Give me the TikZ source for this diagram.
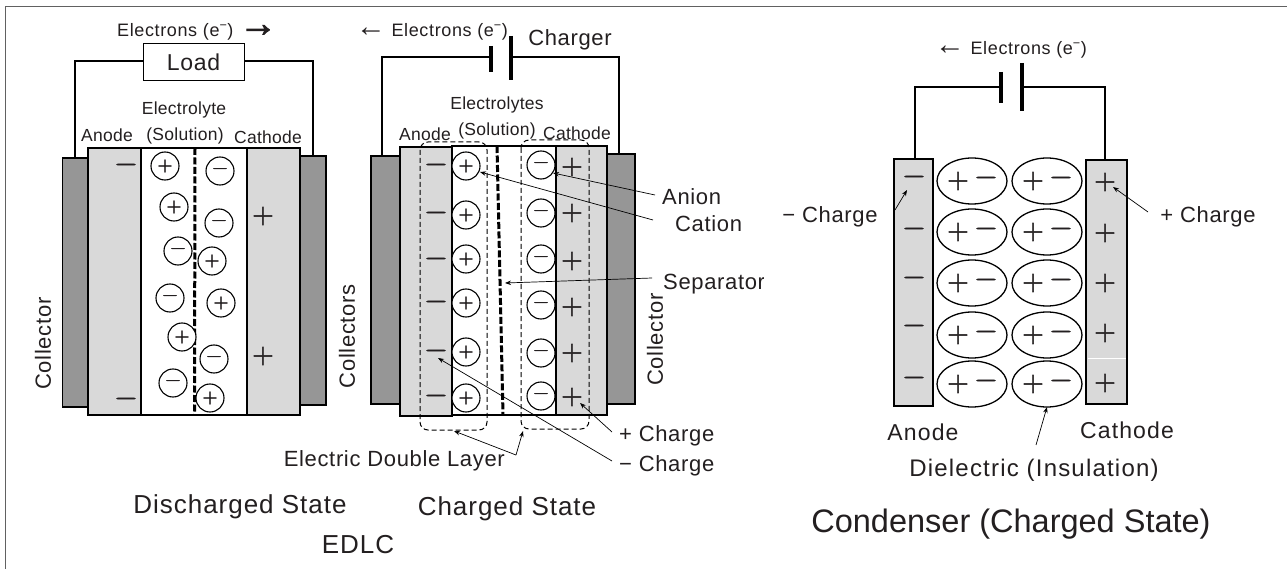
\documentclass[tikz,border=0pt]{standalone}
\usepackage{fontspec}
\setmainfont{Liberation Sans}
\newfontfamily\sgn[FakeBold=1.5]{Latin Modern Roman}
\newfontfamily\gA[LetterSpace=1.5]{Liberation Sans}
\newfontfamily\gB[LetterSpace=3.5]{Liberation Sans}
\newfontfamily\gC[LetterSpace=3]{Liberation Sans}
\newfontfamily\gD[LetterSpace=5]{Liberation Sans}
\newfontfamily\gE[LetterSpace=3.75]{Liberation Sans}
\newfontfamily\arrfat[FakeBold=2.5]{Liberation Sans}
\usetikzlibrary{arrows.meta,shapes.geometric}
\definecolor{txt}{HTML}{231F20}
\definecolor{lite}{HTML}{D9D9D9}
\definecolor{dark}{HTML}{969696}
\newcommand{\fs}[1]{\fontsize{#1}{#1}\selectfont}
\newcommand{\elec}{Electrons (e\textsuperscript{−})}
\newcommand{\larr}{\smash{\raisebox{0pt}{\fs{30}\rmfamily←}}}
\newcommand{\rarr}{\smash{\raisebox{0pt}{\arrfat\fs{38}→}}}
\tikzset{
  x=1pt,y=-1pt,
  lbl/.style={text=txt,inner sep=0pt,yshift=-1.5pt,font=\gA\fs{17.5}},
  lble/.style={text=txt,inner sep=0pt,yshift=-1.5pt,font=\gB\fs{18}},
  lblb/.style={text=txt,inner sep=0pt,yshift=-1.5pt,font=\gC\fs{22}},
  lbld/.style={text=txt,inner sep=0pt,yshift=-1.5pt,font=\gD\fs{23}},
  lblc/.style={text=txt,inner sep=0pt,yshift=-2pt,font=\gE\fs{26}},
  lite rect/.style={draw=black,fill=lite,line width=1.8pt},
  dark rect/.style={draw=black,fill=dark,line width=1.8pt},
  white rect/.style={draw=black,fill=white,line width=1.8pt},
  ion/.style={circle,draw=black,fill=white,line width=1.1pt,minimum size=28pt,inner sep=0pt,text=txt,font=\sgn\fs{21}},
  sign/.style={inner sep=0pt,text=txt,font=\sgn\fs{30}},
  wire/.style={line width=2.6pt,line join=miter},
  plate/.style={line width=3.5pt},
  ptr/.style={line width=.7pt,-{Stealth[length=6pt,width=4.5pt]},black},
  dlayer/.style={line width=1pt,dash pattern=on 5pt off 3pt,rounded corners=8pt},
  sep/.style={line width=3pt,dash pattern=on 7pt off 2.5pt},
  dipole/.style={ellipse,draw=black,fill=white,line width=1.3pt,minimum width=70pt,minimum height=46pt,inner sep=0pt},
}
\begin{document}
\begin{tikzpicture}
\useasboundingbox (0,0) rectangle (1287,569);
\fill[white] (0,0) rectangle (1287,569);
\draw[line width=1.8pt,draw=black!62] (5.5,569) -- (5.5,6.5) -- (1287,6.5);

% ---------- Discharged cell
\draw[wire,line width=2pt] (193,61) -| (75,158);
\draw[wire] (193,61) -| (313,156);
\node[draw=black,fill=white,line width=1pt,minimum width=101pt,minimum height=37pt,inner sep=0pt,text=txt,font=\gC\fs{23}] (load) at (193.5,62.5) {Load};
\path[dark rect] (62.5,158) rectangle (88,407);
\path[dark rect] (300,156) rectangle (326,405);
\path[lite rect] (88,148) rectangle (141,415);
\path[white rect] (141,148) rectangle (247,415);
\path[lite rect] (247,148) rectangle (300,415);
\draw[sep] (195,148) -- (194.5,415);
\node[sign] (d1) at (126,168) {−};
\node[sign] (d2) at (126,402) {−};
\node[sign] (d3) at (263,216) {+};
\node[sign] (d4) at (263,356) {+};
\node[ion] (a1) at (165,166) {+};
\node[ion] (a2) at (220,171) {−};
\node[ion] (a3) at (174,207) {+};
\node[ion] (a4) at (219,223) {−};
\node[ion] (a5) at (178,251) {−};
\node[ion] (a6) at (212,261) {+};
\node[ion] (a7) at (170,298) {−};
\node[ion] (a8) at (221,303) {+};
\node[ion] (a9) at (182,337) {+};
\node[ion] (a10) at (214,359) {−};
\node[ion] (a11) at (173,383) {−};
\node[ion] (a12) at (210,398) {+};
\node[lble,anchor=west] (t1) at (117,30) {\elec\ \rarr};
\node[lbl] (t2) at (184,108) {Electrolyte};
\node[lbl] (t3) at (107,134) {Anode};
\node[lbl] (t4) at (185,134) {(Solution)};
\node[lbl] (t5) at (268,136) {Cathode};
\node[lblb,rotate=90] (t6) at (43,342) {Collector};
\node[lblb,rotate=90] (t7) at (347,335) {Collectors};

% ---------- Charged cell
\coordinate (cl) at (382,156);
\coordinate (cr) at (619,154);
\coordinate (pl) at (491,57);
\coordinate (pr) at (511,57);
\draw[wire] (pl) -| (cl);
\draw[wire] (pr) -| (cr);
\draw[plate] (491,46) -- (491,72);
\draw[plate] (511,36) -- (511,80);
\path[dark rect] (371,156) rectangle (400,404);
\path[dark rect] (607,154) rectangle (635,404);
\path[lite rect] (400,147) rectangle (452,416);
\path[lite rect] (556,146) rectangle (607,415);
\path[white rect] (452,146) rectangle (556,415);
\draw[lite rect] (400,147) rectangle (452,416);
\draw[sep] (497,146) -- (503,415);
\foreach \y/\n in {168/1,216/2,262/3,305/4,354/5,399/6}
  \node[sign] (m\n) at (436,\y) {−};
\foreach \y/\n in {167/1,213/2,261/3,307/4,353/5,397/6}
  \node[sign] (p\n) at (572,\y) {+};
\foreach \y/\n in {166/1,215/2,259/3,303/4,352/5,398/6}
  \node[ion] (ip\n) at (466,\y) {+};
\foreach \y/\n in {165/1,213/2,259/3,305/4,353/5,396/6}
  \node[ion] (im\n) at (541,\y) {−};
\draw[dlayer] (420,142) rectangle (487,430);
\draw[dlayer] (521,140) rectangle (589,429);
\node[lble,anchor=east] (u1) at (508,30) {\larr\ \elec};
\node[lblb] (u2) at (570,38) {Charger};
\node[lbl] (u3) at (497,103) {Electrolytes};
\node[lbl] (u4) at (497,129) {(Solution)};
\node[lbl] (u5) at (425,133) {Anode};
\node[lbl] (u6) at (577,132) {Cathode};
\node[lblb,rotate=90] (u7) at (655,338) {Collector};
\node[lblb,anchor=west] (anion) at (662,195) {Anion};
\node[lblb,anchor=west] (cation) at (675,222) {Cation};
\node[lblb,anchor=west] (sepl) at (663,283) {Separator};
\fill[white] (764,265) rectangle (800,300);
\node[lblb,anchor=west] (pch) at (619,434) {+ Charge};
\node[lblb,anchor=west] (mch) at (619,464) {− Charge};
\node[lblb,anchor=east] (edl) at (505,459) {Electric Double Layer};
\node[lblc] (dis) at (240,505) {Discharged State};
\node[lblc] (chg) at (507,507) {Charged State};
\node[lblc] (edlc) at (358,543) {EDLC};
\coordinate (f1) at (655,195);
\coordinate (f2) at (653,220);
\coordinate (f3) at (652,278);
\coordinate (f4) at (612,432);
\coordinate (f5) at (612,461);
\coordinate (f6) at (516,455);
\coordinate (e1) at (553,173);
\coordinate (e2) at (480,172);
\coordinate (e3) at (505,283);
\coordinate (e4) at (580,403);
\coordinate (e5) at (438,358);
\coordinate (e6) at (454,431);
\coordinate (e7) at (523,431);
\draw[ptr] (f1) -- (e1);
\draw[ptr] (f2) -- (e2);
\draw[ptr] (f3) -- (e3);
\draw[ptr] (f4) -- (e4);
\draw[ptr] (f5) -- (e5);
\draw[ptr] (f6) -- (e6);
\draw[ptr] (f6) -- (e7);

% ---------- Condenser
\coordinate (kl) at (915,159);
\coordinate (kr) at (1105,160);
\coordinate (ql) at (1001,87);
\coordinate (qr) at (1022,87);
\draw[wire,line width=2pt] (ql) -| (kl);
\draw[wire] (qr) -| (kr);
\draw[plate] (1001,72) -- (1001,103);
\draw[plate] (1022,63) -- (1022,111);
\path[lite rect] (894,159) rectangle (933,406);
\path[lite rect] (1086,160) rectangle (1127,404);
\draw[white,line width=.6pt] (1087.5,358) -- (1125.5,358);
\foreach \y/\n in {180/1,232/2,281/3,329/4,381/5}
  \node[sign] (cm\n) at (914,\y) {−};
\foreach \y/\n in {182/1,233/2,283/3,333/4,383/5}
  \node[sign] (cp\n) at (1105,\y) {+};
\foreach \y/\n in {181/1,232/2,283/3,335/4,384/5}{
  \node[dipole] (da\n) at (972,\y) {};
  \node[sign] at (958,\y) {+};
  \node[sign] at (986,\y) {−};
  \node[dipole] (db\n) at (1047,\y) {};
  \node[sign] at (1033,\y) {+};
  \node[sign] at (1061,\y) {−};
}
\node[lble,anchor=east] (v1) at (1087,48) {\larr\ \elec};
\node[lblb] (v2) at (830,215) {− Charge};
\node[lblb] (v3) at (1208,215) {+ Charge};
\node[lbld] (v4) at (923,431) {Anode};
\node[lbld] (v5) at (1127,429) {Cathode};
\node[text=txt,inner sep=0pt,yshift=-1.5pt,font=\gD\fs{24}] (v6) at (1034,469) {Dielectric (Insulation)};
\node[text=txt,inner sep=0pt,yshift=-2pt,font=\fs{32.5}] (v7) at (1011,522) {Condenser (Charged State)};
\coordinate (g1) at (895,210);
\coordinate (h1) at (907,190);
\coordinate (g2) at (1148,212);
\coordinate (h2) at (1113,187);
\coordinate (g3) at (1036,445);
\coordinate (h3) at (1047,407);
\draw[ptr] (g1) -- (h1);
\draw[ptr] (g2) -- (h2);
\draw[ptr] (g3) -- (h3);
\end{tikzpicture}
\end{document}
